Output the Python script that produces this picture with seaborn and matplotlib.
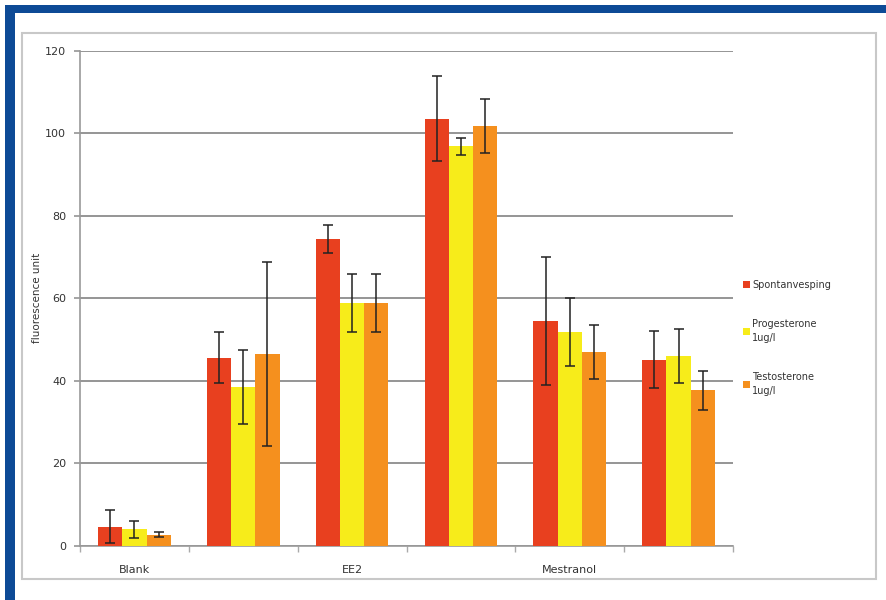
import numpy as np
import pandas as pd
import matplotlib
matplotlib.use("Agg")
import matplotlib.pyplot as plt
from matplotlib.patches import Rectangle
import seaborn as sns

# ---- data ----
group_ids = [0, 1, 2, 3, 4, 5]
tick_labels = ["Blank", "", "EE2", "", "Mestranol", ""]
series_names = ["Spontanvesping", "Progesterone\n1ug/l", "Testosterone\n1ug/l"]
red_vals = [4.7, 45.6, 74.3, 103.5, 54.4, 45.1]
yellow_vals = [4.0, 38.6, 58.8, 96.8, 51.8, 46.1]
orange_vals = [2.7, 46.5, 58.8, 101.8, 47.0, 37.7]
red_err = [4.0, 6.2, 3.4, 10.3, 15.5, 6.9]
yellow_err = [2.1, 9.0, 7.0, 2.1, 8.2, 6.5]
orange_err = [0.6, 22.2, 7.0, 6.6, 6.6, 4.7]
colors = ["#E8401F", "#F7EC1A", "#F5901E"]
y_ticks = [0, 20, 40, 60, 80, 100, 120]

sns.set_theme(style="white")
plt.rcParams["font.family"] = ["DejaVu Sans"]

rows = []
for vals, errs, name in zip([red_vals, yellow_vals, orange_vals],
                            [red_err, yellow_err, orange_err], series_names):
    for g, v, e in zip(group_ids, vals, errs):
        rows.append({"group": g, "value": v, "err": e, "series": name})
df = pd.DataFrame(rows)

fig = plt.figure(figsize=(8.86, 6.0), dpi=100)
# outer blue frame (top and left)
fig.patches.append(Rectangle((5 / 886, 1 - 13 / 600), 1, 8 / 600, transform=fig.transFigure,
                             facecolor="#0D4A96", edgecolor="none", zorder=-10))
fig.patches.append(Rectangle((5 / 886, 0), 10 / 886, 1 - 5 / 600, transform=fig.transFigure,
                             facecolor="#0D4A96", edgecolor="none", zorder=-10))
# inner gray chart box
fig.patches.append(Rectangle((22 / 886, 1 - 579 / 600), (876 - 22) / 886, (579 - 33) / 600,
                             transform=fig.transFigure, facecolor="white",
                             edgecolor="#C8C8C8", linewidth=1.5, zorder=-10))

ax = fig.add_axes([80 / 886, 54 / 600, (733 - 80) / 886, (546 - 50.7) / 600])
ax.set_zorder(5)
ax.set_facecolor("none")

sns.barplot(data=df, x="group", y="value", hue="series", palette=colors,
            errorbar=None, width=0.667, saturation=1, ax=ax, legend=True,
            edgecolor="none", zorder=3)

# error bars at bar centers
for cont, errs in zip(ax.containers, [red_err, yellow_err, orange_err]):
    xs = [p.get_x() + p.get_width() / 2 for p in cont.patches]
    hs = [p.get_height() for p in cont.patches]
    ax.errorbar(xs, hs, yerr=errs, fmt="none", ecolor="#222222", elinewidth=1.1,
                capsize=3.5, capthick=1.1, zorder=4)

ax.set_ylim(0, 120)
ax.set_xlim(-0.5, 5.5)
ax.set_yticks(y_ticks)
ax.set_yticklabels([str(t) for t in y_ticks], fontsize=8, color="#333333")
ax.yaxis.grid(True, color="#8C8C8C", linewidth=1.3, zorder=0)
ax.set_axisbelow(True)
ax.set_xticks(group_ids)
ax.set_xticklabels(tick_labels, fontsize=8, color="#333333")
ax.tick_params(axis="x", length=0, pad=14)
ax.tick_params(axis="y", length=4, color="#999999", left=True, pad=6)
# category boundary ticks
ax.set_xticks([i - 0.5 for i in range(7)], minor=True)
ax.tick_params(axis="x", which="minor", length=4, color="#AAAAAA", bottom=True)
for s in ["top", "right"]:
    ax.spines[s].set_visible(False)
ax.spines["left"].set_color("#999999")
ax.spines["bottom"].set_color("#999999")
ax.spines["left"].set_linewidth(1.2)
ax.spines["bottom"].set_linewidth(1.2)
ax.set_xlabel("")
ax.set_ylabel("fluorescence unit", fontsize=7.5, color="#333333", labelpad=2)

leg = ax.legend(loc="upper left", bbox_to_anchor=(1.01, 0.545), frameon=False,
                fontsize=7, handlelength=0.7, handleheight=0.7, handletextpad=0.2,
                labelspacing=3.0, borderaxespad=0)
for t in leg.get_texts():
    t.set_color("#333333")
    t.set_linespacing(1.5)

fig.savefig("out.png", dpi=100, facecolor="white")
